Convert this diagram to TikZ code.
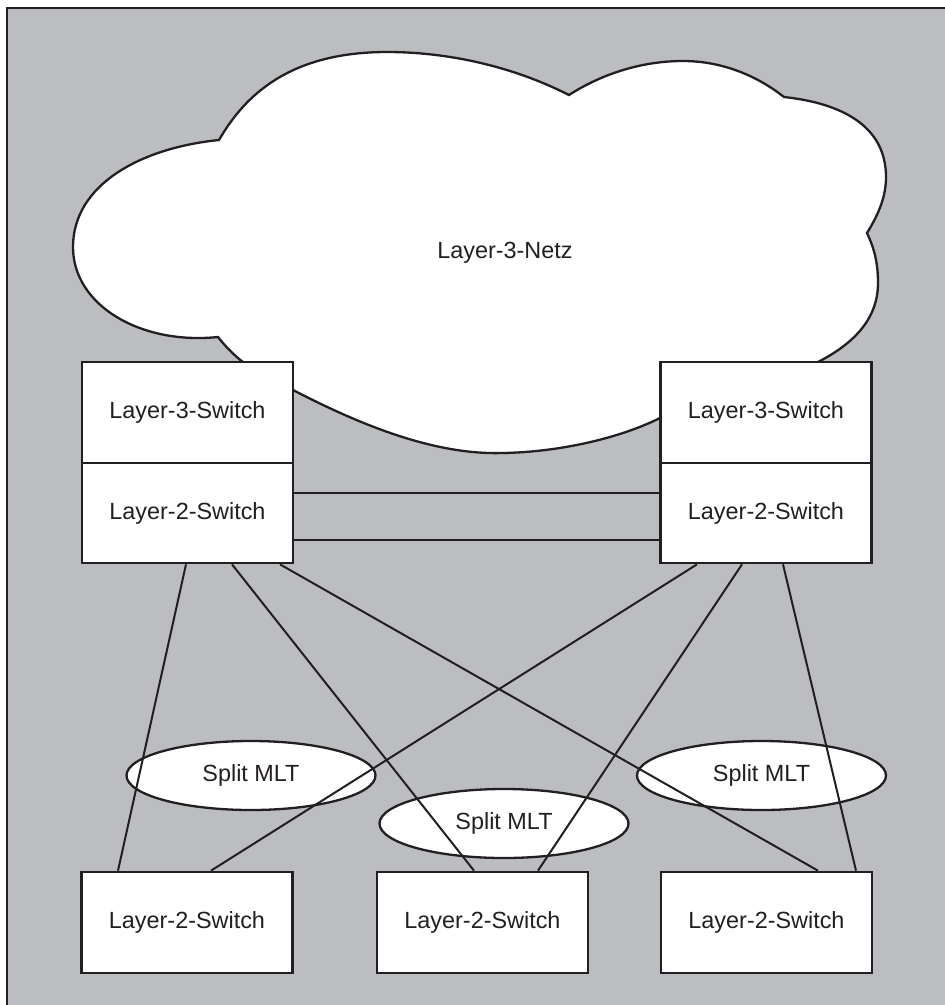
\documentclass[tikz,border=0pt]{standalone}
\usepackage{fontspec}
\setmainfont{Liberation Sans}
\usetikzlibrary{shapes.geometric}
\definecolor{ink}{RGB}{35,31,32}
\definecolor{panel}{RGB}{188,189,193}
\begin{document}
\begin{tikzpicture}[x=1pt,y=-1pt,
  every node/.style={font=\fontsize{23.4}{28}\selectfont, text=ink},
  switchbox/.style={draw=ink, line width=2.7pt, fill=white, minimum width=211pt, inner sep=0pt},
  mlt/.style={ellipse, draw=ink, line width=2.3pt, fill=white, minimum width=249pt, minimum height=69pt, inner sep=0pt},
  link/.style={draw=ink, line width=2pt},
  cloudline/.style={draw=ink, fill=white, line width=2.3pt, line join=miter}
]
% page and grey panel
\useasboundingbox (0,0) rectangle (945,1005);
\fill[white] (0,0) rectangle (945,1005);
\fill[panel] (7,8) rectangle (945,1005);
\draw[ink, line width=2.5pt] (7,1005) -- (7,8) -- (945,8);

% Layer-3 network cloud
\path[cloudline] (219,140) .. controls (140,148) and (73,185) .. (73,247)
  .. controls (73,305) and (140,345) .. (218,337)
  .. controls (240,365) and (265,378) .. (293,390)
  .. controls (370,430) and (440,455) .. (503,453)
  .. controls (560,452) and (620,438) .. (660,418)
  .. controls (720,392) and (790,378) .. (818,362)
  .. controls (855,343) and (878,318) .. (878,283)
  .. controls (878,262) and (874,248) .. (867,233)
  .. controls (880,212) and (886,195) .. (886,177)
  .. controls (886,125) and (840,103) .. (784,97)
  .. controls (760,78) and (725,61) .. (683,61)
  .. controls (640,61) and (600,75) .. (569,95)
  .. controls (510,65) and (445,52) .. (387,52)
  .. controls (290,52) and (245,95) .. (219,140) -- cycle;
\node (netz) at (505,253) {Layer-3-Netz};

% core switches
\node[switchbox, minimum height=101pt] (l3a) at (187.5,412.5) {Layer-3-Switch};
\node[switchbox, minimum height=100pt] (l2a) at (187.5,513) {Layer-2-Switch};
\node[switchbox, minimum height=101pt] (l3b) at (766,412.5) {Layer-3-Switch};
\node[switchbox, minimum height=100pt] (l2b) at (766,513) {Layer-2-Switch};

% edge switches
\node[switchbox, minimum height=101pt] (b1) at (187,922.5) {Layer-2-Switch};
\node[switchbox, minimum height=101pt] (b2) at (482.5,922.5) {Layer-2-Switch};
\node[switchbox, minimum height=101pt] (b3) at (766.5,922.5) {Layer-2-Switch};

% split MLT groups
\node[mlt] (m1) at (251,775.5) {Split MLT};
\node[mlt] (m2) at (504,823.5) {Split MLT};
\node[mlt] (m3) at (761.5,775.5) {Split MLT};

% inter-switch trunk
\draw[link] ([yshift=20pt]l2a.east) -- ([yshift=20pt]l2b.west);
\draw[link] ([yshift=-27pt]l2a.east) -- ([yshift=-27pt]l2b.west);

% uplinks
\draw[link] ([xshift=-1.5pt]l2a.south) -- ([xshift=-69pt]b1.north);
\draw[link] ([xshift=44.5pt]l2a.south) -- ([xshift=-8.5pt]b2.north);
\draw[link] ([xshift=92.5pt]l2a.south) -- ([xshift=51.5pt]b3.north);
\draw[link] ([xshift=-69pt]l2b.south) -- ([xshift=24pt]b1.north);
\draw[link] ([xshift=-24pt]l2b.south) -- ([xshift=55.5pt]b2.north);
\draw[link] ([xshift=17pt]l2b.south) -- ([xshift=89.5pt]b3.north);
\end{tikzpicture}
\end{document}
